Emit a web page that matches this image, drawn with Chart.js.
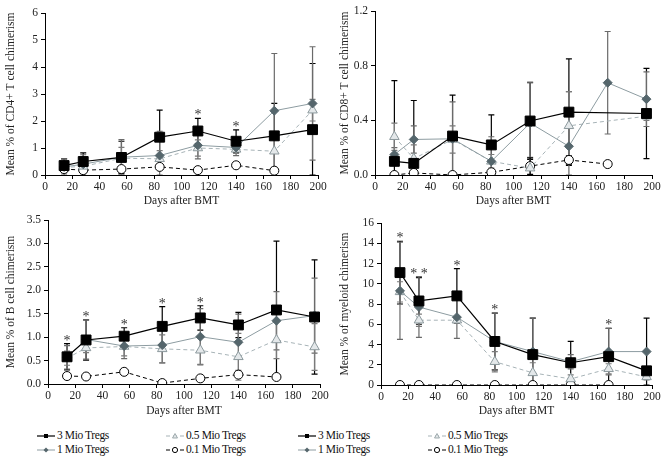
<!DOCTYPE html>
<html lang="en"><head>
<meta charset="utf-8">
<title>Chimerism</title>
<style type="text/css">
body { margin:0; background:#ffffff; font-family:"Liberation Serif",serif; }
#wrap { position:relative; width:668px; height:464px; }
.panel { position:absolute; width:334px; height:208px; }
.leg { position:absolute; font-family:"Liberation Serif",serif; font-size:11.5px; letter-spacing:-0.4px;
       color:#111; white-space:nowrap; line-height:14px; }
.leg svg { vertical-align:middle; margin-right:2px; }
</style>
<script src="https://cdn.jsdelivr.net/npm/chart.js@4"></script>
<script>
var days=[14,28,56,84,112,140,168,196];
var names=['3 Mio Tregs','1 Mio Tregs','0.5 Mio Tregs','0.1 Mio Tregs'];

// CD4+ T cells
var cd4_3=[0.35,0.5,0.65,1.4,1.63,1.25,1.45,1.68];
var cd4_3e=[0.25,0.32,0.6,1.0,0.47,0.42,1.2,2.45];
var cd4_1=[0.3,0.4,0.66,0.72,1.1,1.02,2.38,2.65];
var cd4_1e=[0.3,0.35,0.65,0.9,0.5,0.3,2.12,2.1];
var cd4_05=[0.28,0.32,0.62,0.6,1.0,0.95,0.88,2.4];
var cd4_05e=[0.2,0.2,0.4,0.3,0.3,0.15,0.6,0.4];
var cd4_01=[0.22,0.18,0.22,0.3,0.18,0.36,0.16,null];
var cd4_01e=[0.05,0.05,0.05,0.05,0.02,0.04,0.02,0];
var cd4Stars=['','','','','*','*','',''];

// CD8+ T cells
var cd8_3=[0.1,0.085,0.285,0.22,0.395,0.46,null,0.45];
var cd8_3e=[0.59,0.46,0.3,0.22,0.28,0.39,0,0.33];
var cd8_1=[0.15,0.26,0.265,0.1,0.38,0.21,0.675,0.555];
var cd8_1e=[0.05,0.1,0.27,0.18,0.3,0.4,0.375,0.2];
var cd8_05=[0.28,0.12,0.26,0.1,0.05,0.36,null,0.43];
var cd8_05e=[0.1,0.1,0.1,0.05,0.08,0.25,0,0.03];
var cd8_01=[0.0,0.015,0.0,0.02,0.065,0.11,0.08,null];
var cd8_01e=[0.01,0.02,0.01,0.02,0.06,0.03,0,0];
var cd8Stars=['','','','','','','',''];

// B cells
var b_3=[0.58,0.94,1.02,1.23,1.41,1.26,1.58,1.43];
var b_3e=[0.28,0.43,0.18,0.42,0.26,0.27,1.47,1.22];
var b_1=[0.57,0.95,0.81,0.83,1.01,0.89,1.35,1.46];
var b_1e=[0.25,0.42,0.27,0.38,0.6,0.6,0.62,0.8];
var b_05=[0.55,0.77,0.8,0.75,0.72,0.58,0.94,0.79];
var b_05e=[0.15,0.1,0.2,0.3,0.3,0.5,0.4,0.5];
var b_01=[0.17,0.16,0.26,0.02,0.12,0.2,0.15,null];
var b_01e=[0.03,0.02,0.02,0.02,0.02,0.03,0.02,0];
var bStars=['*','*','*','*','*','','',''];

// myeloid
var my_3=[11.1,8.3,8.8,4.3,3.0,2.2,2.8,1.4];
var my_3e=[3.1,2.3,2.7,2.8,3.6,2.1,2.8,5.2];
var my_1=[9.3,7.7,6.7,4.3,3.3,2.3,3.3,3.3];
var my_1e=[4.8,3.0,2.1,2.8,3.3,0.7,2.3,0];
var my_05=[9.2,6.4,6.4,2.3,1.2,0.6,1.6,0.8];
var my_05e=[1.0,0.6,0.3,1.0,1.0,0.4,0.5,0.3];
var my_01=[0,0,0,0,0,0,0,null];
var my_01e=[0,0,0,0,0,0,0,0];
var myStars=['*','* *','*','*','','','*',''];

var looks=[
  {line:'#000000',bg:'#000000',bd:'#000000',pt:'rect',r:7,dash:[],w:1.2,err:'#000000'},
  {line:'#8d9ca1',bg:'#55666c',bd:'#55666c',pt:'rectRot',r:4.5,dash:[],w:1,err:'#6a6a6a'},
  {line:'#a7b3b7',bg:'#e4e8ea',bd:'#8c999d',pt:'triangle',r:5.5,dash:[4,3],w:1,err:'#7a7a7a'},
  {line:'#000000',bg:'#ffffff',bd:'#000000',pt:'circle',r:4.5,dash:[4,3],w:1,err:'#000000'}];

var errPlugin={id:'errbars',
  beforeDatasetsDraw:function(chart){
    var c=chart.ctx,xs=chart.scales.x,ys=chart.scales.y,a=chart.chartArea;
    c.save(); c.beginPath(); c.rect(a.left,a.top-2,a.right-a.left,a.bottom-a.top+2); c.clip();
    chart.data.datasets.forEach(function(ds){
      ds.data.forEach(function(p,i){
        if (p.y===null || !ds.errs[i]) return;
        var x=xs.getPixelForValue(p.x);
        var y1=ys.getPixelForValue(p.y+ds.errs[i]), y0=ys.getPixelForValue(Math.max(0,p.y-ds.errs[i]));
        c.strokeStyle=ds.errColor; c.lineWidth=1.2; c.setLineDash([]);
        c.beginPath(); c.moveTo(x,y0); c.lineTo(x,y1);
        c.moveTo(x-3,y1); c.lineTo(x+3,y1);
        c.moveTo(x-3,y0); c.lineTo(x+3,y0); c.stroke(); });
    });
    c.restore(); },
  afterDatasetsDraw:function(chart){
    var c=chart.ctx,xs=chart.scales.x,ys=chart.scales.y,st=chart.options.plugins.errbars.stars;
    c.save(); c.fillStyle='#333'; c.font='14px "Liberation Serif",serif'; c.textAlign='center';
    st.forEach(function(s,i){
      if (!s) return;
      var top=0;
      chart.data.datasets.forEach(function(ds){ var v=ds.data[i].y; if (v!==null) top=Math.max(top,v+ds.errs[i]); });
      c.fillText(s,xs.getPixelForValue(days[i]),ys.getPixelForValue(top)+1); });
    c.restore(); } };

function makeChart(id,vals,errs,stars,ymax,ystep,dec,ytitle,yw,top,right,bottom) {
  var sets=vals.map(function(v,k){ var L=looks[k];
    return {label:names[k],data:v.map(function(y,i){return {x:days[i],y:y};}),errs:errs[k],errColor:L.err,
      borderColor:L.line,borderWidth:L.w,borderDash:L.dash,pointStyle:L.pt,pointRadius:L.r,
      pointBackgroundColor:L.bg,pointBorderColor:L.bd,pointBorderWidth:1,spanGaps:true,tension:0}; });
  var tf={family:'"Liberation Serif",serif',size:11.5};
  new Chart(document.getElementById(id),{type:'line',data:{datasets:sets},
    plugins:[errPlugin],
    options:{responsive:false,animation:false,
      layout:{padding:{left:0,top:top,right:right,bottom:0}},
      plugins:{legend:{display:false},tooltip:{enabled:false},errbars:{stars:stars}},
      scales:{
        x:{type:'linear',min:0,max:200,
          ticks:{stepSize:20,color:'#222',font:tf,padding:1},
          grid:{drawOnChartArea:false,drawTicks:true,tickLength:4,color:'#000'},
          border:{color:'#000',width:1},
          title:{display:true,text:'Days after BMT',color:'#222',font:tf,padding:{top:0,bottom:0}},
          afterFit:function(s){ s.height=bottom; }},
        y:{min:0,max:ymax,
          ticks:{stepSize:ystep,color:'#222',font:tf,padding:3,
            callback:function(v){return v.toFixed(dec);}},
          grid:{drawOnChartArea:false,drawTicks:true,tickLength:4,color:'#000'},
          border:{color:'#000',width:1},
          title:{display:true,text:ytitle,color:'#222',font:tf,padding:{top:4,bottom:0}},
          afterFit:function(s){ s.width=yw; }}}}}); }

function initCharts() {
  makeChart('c1',[cd4_3,cd4_1,cd4_05,cd4_01],[cd4_3e,cd4_1e,cd4_05e,cd4_01e],cd4Stars,6,1,0,
    'Mean % of CD4+ T cell chimerism',45,13,16,33);
  makeChart('c2',[cd8_3,cd8_1,cd8_05,cd8_01],[cd8_3e,cd8_1e,cd8_05e,cd8_01e],cd8Stars,1.2,0.4,1,
    'Mean % of CD8+ T cell chimerism',41,11,16,33);
  makeChart('c3',[b_3,b_1,b_05,b_01],[b_3e,b_1e,b_05e,b_01e],bStars,3.5,0.5,1,
    'Mean % of B cell chimerism',48,10,14,34);
  makeChart('c4',[my_3,my_1,my_05,my_01],[my_3e,my_1e,my_05e,my_01e],myStars,16,2,0,
    'Mean % of myeloid chimerism',47,13,16,33); }
</script></head>
<body onload="initCharts();">
<div id="wrap">
  <canvas class="panel" id="c1" width="334" height="208" style="left:0;top:0"></canvas>
  <canvas class="panel" id="c2" width="334" height="208" style="left:334px;top:0"></canvas>
  <canvas class="panel" id="c3" width="334" height="208" style="left:0;top:210px"></canvas>
  <canvas class="panel" id="c4" width="334" height="208" style="left:334px;top:210px"></canvas>

  <div class="leg" style="left:37px;top:428px">
    <svg width="18" height="8"><line x1="0" y1="4" x2="18" y2="4" stroke="#000" stroke-width="1.2"/><rect x="7" y="2" width="4" height="4" fill="#000"/></svg>3 Mio Tregs<br>
    <svg width="18" height="8"><line x1="0" y1="4" x2="18" y2="4" stroke="#8d9ca1"/><path d="M9 1.5 L11.5 4 L9 6.5 L6.5 4Z" fill="#55666c"/></svg>1 Mio Tregs
  </div>
  <div class="leg" style="left:166px;top:428px">
    <svg width="18" height="8"><line x1="0" y1="4" x2="18" y2="4" stroke="#a7b3b7" stroke-dasharray="4,3"/><path d="M9 1.5 L11.5 6 L6.5 6Z" fill="#e4e8ea" stroke="#8c999d" stroke-width="0.8"/></svg>0.5 Mio Tregs<br>
    <svg width="18" height="8"><line x1="0" y1="4" x2="18" y2="4" stroke="#000" stroke-dasharray="4,3"/><circle cx="9" cy="4" r="2.6" fill="#fff" stroke="#000"/></svg>0.1 Mio Tregs
  </div>
  <div class="leg" style="left:298px;top:428px">
    <svg width="18" height="8"><line x1="0" y1="4" x2="18" y2="4" stroke="#000" stroke-width="1.2"/><rect x="7" y="2" width="4" height="4" fill="#000"/></svg>3 Mio Tregs<br>
    <svg width="18" height="8"><line x1="0" y1="4" x2="18" y2="4" stroke="#8d9ca1"/><path d="M9 1.5 L11.5 4 L9 6.5 L6.5 4Z" fill="#55666c"/></svg>1 Mio Tregs
  </div>
  <div class="leg" style="left:428px;top:428px">
    <svg width="18" height="8"><line x1="0" y1="4" x2="18" y2="4" stroke="#a7b3b7" stroke-dasharray="4,3"/><path d="M9 1.5 L11.5 6 L6.5 6Z" fill="#e4e8ea" stroke="#8c999d" stroke-width="0.8"/></svg>0.5 Mio Tregs<br>
    <svg width="18" height="8"><line x1="0" y1="4" x2="18" y2="4" stroke="#000" stroke-dasharray="4,3"/><circle cx="9" cy="4" r="2.6" fill="#fff" stroke="#000"/></svg>0.1 Mio Tregs
  </div>
</div>
</body></html>
